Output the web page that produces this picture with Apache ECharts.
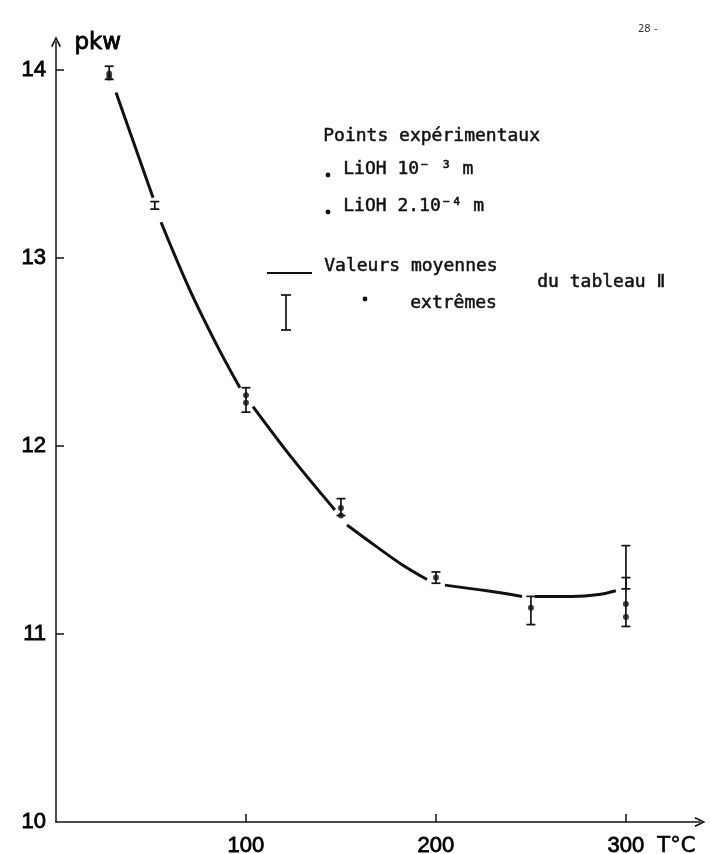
<!DOCTYPE html>
<html>
<head>
<meta charset="utf-8">
<style>
  html, body { margin: 0; padding: 0; background: #ffffff; }
  #chart { width: 711px; height: 854px; }
</style>
<script src="https://cdn.jsdelivr.net/npm/echarts@6/dist/echarts.min.js"></script>
</head>
<body>
<div id="chart"></div>
<script>
// Temperatures (°C) and pkw values
const xTicks = [100, 200, 300];
const yTicks = [11, 12, 13, 14];
const yLabels = [10, 11, 12, 13, 14];

// Mean-value curve (Valeurs moyennes du tableau II); null marks a pen lift
const meanT = [31.6, 51.1, null, 55.3, 70.0, 85.0, 96.8, null, 103.7, 124.7, 146.8, null,
               153.2, 168.0, 182.0, 195.3, null, 204.7, 226.8, 245.3, null, 252.1, 271.6, 285.8, 294.7];
const meanP = [13.88, 13.32, null, 13.19, 12.84, 12.53, 12.31, null, 12.21, 11.93, 11.66, null,
               11.58, 11.47, 11.37, 11.29, null, 11.26, 11.23, 11.20, null, 11.20, 11.20, 11.21, 11.23];

// Extreme values (vertical bars)
const extremeT    = [28, 52, 100, 150, 200, 250, 300, 300];
const extremeLow  = [13.95, 13.26, 12.18, 11.63, 11.27, 11.05, 11.04, 11.24];
const extremeHigh = [14.02, 13.30, 12.31, 11.72, 11.33, 11.20, 11.30, 11.47];

// Experimental points
const lioh3T = [28, 100, 150, 200, 250, 300];
const lioh3P = [13.98, 12.27, 11.67, 11.30, 11.14, 11.16];
const lioh4T = [28, 100, 150, 300];
const lioh4P = [13.96, 12.23, 11.63, 11.09];

const AXIS_FONT = '"Liberation Sans", "DejaVu Sans", sans-serif';
const KEY_FONT = '"DejaVu Sans Mono", "DejaVu Sans", "Noto Sans CJK SC", monospace';
const INK = '#111111';
const ARROW = 'path://M5,0 L10,10 L8.6,11 L5,3.4 L1.4,11 L0,10 Z';

const chart = echarts.init(document.getElementById('chart'), null, { renderer: 'canvas' });

const meanData = meanT.map((t, i) => (t === null ? ['-', '-'] : [t, meanP[i]]));
const extremeData = extremeT.map((t, i) => [t, extremeLow[i], extremeHigh[i]]);

function renderExtreme(params, api) {
  const top = api.coord([api.value(0), api.value(2)]);
  const bot = api.coord([api.value(0), api.value(1)]);
  const half = 4.5;
  const style = { stroke: INK, lineWidth: 1.7 };
  return {
    type: 'group',
    children: [
      { type: 'line', shape: { x1: top[0], y1: top[1], x2: bot[0], y2: bot[1] }, style },
      { type: 'line', shape: { x1: top[0] - half, y1: top[1], x2: top[0] + half, y2: top[1] }, style },
      { type: 'line', shape: { x1: bot[0] - half, y1: bot[1], x2: bot[0] + half, y2: bot[1] }, style }
    ]
  };
}

// key lettering, slightly thickened with a hairline outline
const keyText = (text) => ({ text: text, fill: INK, font: '18px ' + KEY_FONT, stroke: INK, lineWidth: 0.5 });
const labelInk = { color: '#000', textBorderColor: '#000', textBorderWidth: 0.8 };

chart.setOption({
  backgroundColor: '#ffffff',
  animation: false,
  grid: { left: 56, right: 11, top: 41.8, bottom: 32, containLabel: false, outerBoundsMode: 'none' },
  xAxis: {
    type: 'value',
    min: 0,
    max: 339,
    interval: 100,
    splitLine: { show: false },
    axisLine: {
      lineStyle: { color: INK, width: 1.5 },
      symbol: ['none', ARROW],
      symbolSize: [10, 12]
    },
    axisTick: { inside: true, length: 8, lineStyle: { color: INK, width: 1.5 }, customValues: xTicks },
    axisLabel: Object.assign({ customValues: xTicks, fontSize: 22, fontFamily: AXIS_FONT, margin: 13 }, labelInk)
  },
  yAxis: {
    type: 'value',
    min: 10,
    max: 14.15,
    interval: 1,
    splitLine: { show: false },
    axisLine: {
      lineStyle: { color: INK, width: 1.5 },
      symbol: ['none', ARROW],
      symbolSize: [10, 12]
    },
    axisTick: { inside: true, length: 8, lineStyle: { color: INK, width: 1.5 }, customValues: yTicks },
    axisLabel: Object.assign({ customValues: yLabels, fontSize: 22, fontFamily: AXIS_FONT, margin: 10 }, labelInk)
  },
  series: [
    {
      name: 'Valeurs moyennes',
      type: 'line',
      data: meanData,
      smooth: 0.35,
      connectNulls: false,
      showSymbol: false,
      lineStyle: { color: INK, width: 3 }
    },
    {
      name: 'extrêmes',
      type: 'custom',
      data: extremeData,
      renderItem: renderExtreme,
      encode: { x: 0, y: [1, 2] }
    },
    {
      name: 'LiOH 10⁻³ m',
      type: 'scatter',
      data: lioh3T.map((t, i) => [t, lioh3P[i]]),
      symbol: 'circle',
      symbolSize: 6,
      itemStyle: { color: INK }
    },
    {
      name: 'LiOH 2.10⁻⁴ m',
      type: 'scatter',
      data: lioh4T.map((t, i) => [t, lioh4P[i]]),
      symbol: 'circle',
      symbolSize: 6,
      itemStyle: { color: INK }
    }
  ],
  graphic: [
    // axis names
    { type: 'text', left: 74, top: 31, style: { text: 'pkw', fill: '#000', stroke: '#000', lineWidth: 0.8, font: '23px "DejaVu Sans", sans-serif' } },
    { type: 'text', left: 657, top: 836, style: { text: 'T°C', fill: '#000', stroke: '#000', lineWidth: 0.6, font: '21px "DejaVu Sans", sans-serif' } },
    // page number
    { type: 'text', left: 638, top: 24, style: { text: '28 -', fill: '#333333', font: '10px "DejaVu Sans", sans-serif' } },
    // key
    { type: 'text', left: 323, top: 127, style: keyText('Points expérimentaux') },
    { type: 'circle', shape: { cx: 328, cy: 175, r: 2.4 }, style: { fill: INK } },
    { type: 'text', left: 343, top: 160, style: keyText('LiOH 10⁻ ³ m') },
    { type: 'circle', shape: { cx: 328, cy: 212, r: 2.4 }, style: { fill: INK } },
    { type: 'text', left: 343, top: 197, style: keyText('LiOH 2.10⁻⁴ m') },
    { type: 'line', shape: { x1: 267, y1: 273, x2: 312, y2: 273 }, style: { stroke: INK, lineWidth: 2 } },
    { type: 'text', left: 324, top: 257, style: keyText('Valeurs moyennes') },
    { type: 'text', left: 537, top: 273, style: keyText('du tableau Ⅱ') },
    { type: 'line', shape: { x1: 286, y1: 295, x2: 286, y2: 330 }, style: { stroke: INK, lineWidth: 1.7 } },
    { type: 'line', shape: { x1: 281, y1: 295, x2: 291, y2: 295 }, style: { stroke: INK, lineWidth: 1.7 } },
    { type: 'line', shape: { x1: 281, y1: 330, x2: 291, y2: 330 }, style: { stroke: INK, lineWidth: 1.7 } },
    { type: 'circle', shape: { cx: 365, cy: 299, r: 2.4 }, style: { fill: INK } },
    { type: 'text', left: 410, top: 294, style: keyText('extrêmes') }
  ]
});
</script>
</body>
</html>
